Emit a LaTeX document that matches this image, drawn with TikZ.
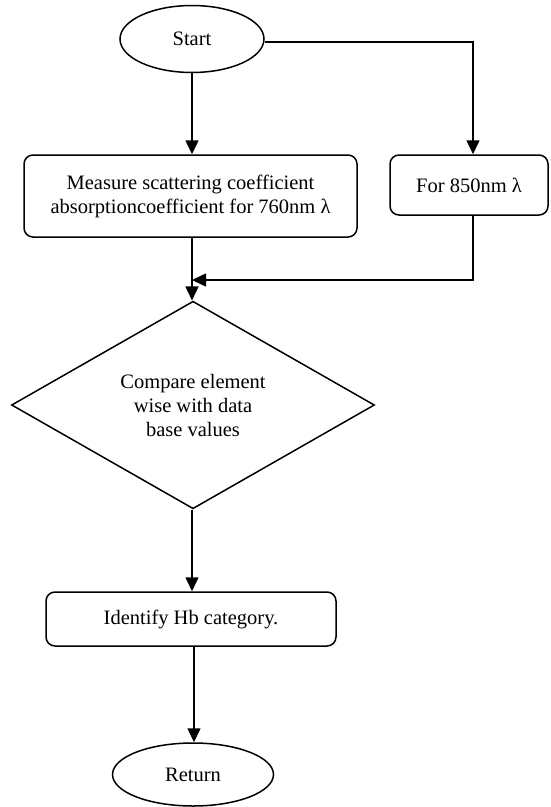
\documentclass[tikz,border=0pt]{standalone}
\usepackage{fontspec}
\setmainfont{Liberation Serif}
\usetikzlibrary{shapes.geometric,arrows.meta}
\begin{document}
\begin{tikzpicture}[x=1pt,y=-1pt,
  every node/.style={font=\fontsize{20.5}{24}\selectfont, line width=1.5pt, align=center, inner sep=0pt},
  term/.style={draw, ellipse},
  proc/.style={draw, rectangle, rounded corners=9pt},
  decision/.style={draw, diamond},
  conn/.style={line width=1.5pt, -{Triangle[length=14pt,width=13pt]}}]
\useasboundingbox (0,0) rectangle (550,807);
\node[term, minimum width=144pt, minimum height=67pt] (start) at (192,39) {Start};
\node[proc, minimum width=333pt, minimum height=82pt] (measure) at (190.5,196) {Measure scattering coefficient\\absorptioncoefficient for 760nm λ};
\node[proc, minimum width=158pt, minimum height=60pt] (f850) at (469,185) {For 850nm λ};
\node[decision, minimum width=363pt, minimum height=178pt] (cmp) at (193,405) {Compare element\\wise with data\\base values};
\node[proc, minimum width=290pt, minimum height=54pt] (ident) at (191,619) {Identify Hb category.};
\node[term, minimum width=161pt, minimum height=63pt] (ret) at (193,774.5) {Return};
\coordinate (c1) at (473,42);
\coordinate (m) at (192,280);
\coordinate (r) at (194,0);
\draw[conn] (start.south) -- (start.south |- measure.north);
\draw[conn] (start.east |- c1) -- (c1) -- (c1 |- f850.north);
\draw[conn] (measure.south -| m) -- (cmp.north -| m);
\draw[conn] (c1 |- f850.south) -- (c1 |- m) -- (m);
\draw[conn] (cmp.south -| m) -- (ident.north -| m);
\draw[conn] (ident.south -| r) -- (ret.north -| r);
\end{tikzpicture}
\end{document}
